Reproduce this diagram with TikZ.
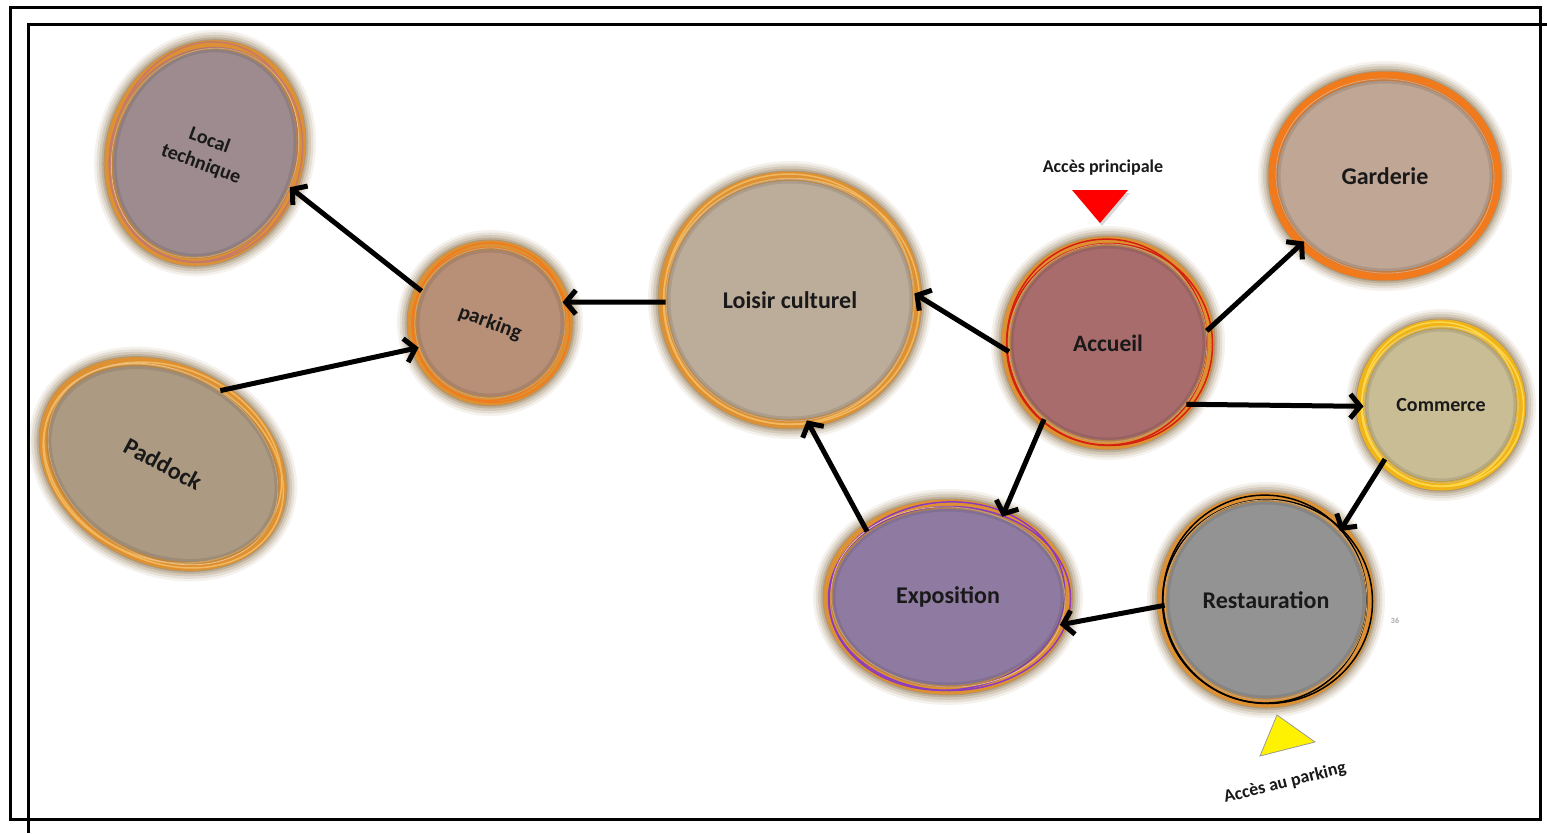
\documentclass[tikz,border=0pt]{standalone}
\usepackage{fontspec}
\setmainfont{Carlito}
\usetikzlibrary{shapes.geometric,arrows.meta}
\definecolor{halo}{HTML}{7A5A2A}
\definecolor{cLoc}{HTML}{9D8B8F}
\definecolor{cPark}{HTML}{B89078}
\definecolor{cPad}{HTML}{AD9A83}
\definecolor{cLois}{HTML}{BCAC9A}
\definecolor{cAcc}{HTML}{A86C6D}
\definecolor{cGar}{HTML}{C0A694}
\definecolor{cCom}{HTML}{C9BD95}
\definecolor{cRest}{HTML}{939393}
\definecolor{cExpo}{HTML}{8F7BA1}
\definecolor{rOr}{HTML}{DE9132}
\definecolor{rOr2}{HTML}{F07A1C}
\definecolor{rYel}{HTML}{F0B418}
\definecolor{aPink}{HTML}{C47A6A}
\definecolor{aRed}{HTML}{D42010}
\definecolor{aYel}{HTML}{FFD84A}
\definecolor{aPur}{HTML}{8A3CC0}
\definecolor{aLight}{HTML}{F2B860}
\tikzset{
  bubble/.style={shape=ellipse, inner sep=0pt, font=\bfseries, text=black!90},
  arr/.style={line width=5pt, black, -{Straight Barb[length=10pt,width=24pt]}},
  frame/.style={line width=3pt, black},
  lbl/.style={font=\bfseries, text=black!90, inner sep=0pt}
}
\newcommand\bubble[9]{%
  \begin{scope}[shift={(#2)},rotate=#5]
    \foreach \w/\o in {30/0.08,25/0.12,20/0.16,15/0.22,11/0.3}
      \draw[halo, line width=\w pt, opacity=\o] (0,0) ellipse [x radius=#3pt, y radius=#4pt];
    \draw[#7, line width=9pt] (0,0) ellipse [x radius=#3pt, y radius=#4pt];
    \draw[#8, line width=1.5pt] (1.5,-1.5) ellipse [x radius=#3pt+1pt, y radius=#4pt-1pt];
    \draw[#8, line width=1.5pt, rotate=5] (-1,1) ellipse [x radius=#3pt-2pt, y radius=#4pt+1pt];
    \draw[#7!55!white, line width=0.8pt, rotate=-3] (0,0) ellipse [x radius=#3pt-3pt, y radius=#4pt-3pt];
  \end{scope}
  \node[bubble, fill=#6, draw=#6!70!black, draw opacity=0.3, line width=5pt,
        minimum width={2*#3pt-10pt}, minimum height={2*#4pt-10pt}, rotate=#5] (#1) at (#2) {#9};
}
\begin{document}
\begin{tikzpicture}[x=1pt,y=1pt]
\useasboundingbox (0,0) rectangle (1547,-833);
% frames
\draw[frame] (10,-7) rectangle (1540,-819);
\draw[frame] (1547,-24) -- (28,-24) -- (28,-833);

% bubbles
\bubble{loc}{205,-153}{94}{110}{-20}{cLoc}{rOr}{aPink}{\fontsize{20}{25}\selectfont\begin{tabular}{@{}c@{}}Local\\technique\end{tabular}}
\bubble{park}{490,-323}{78}{78}{-20}{cPark}{rOr}{rOr2}{\fontsize{21}{24}\selectfont parking}
\bubble{pad}{163,-464}{125}{95}{-28}{cPad}{rOr}{aLight}{\fontsize{24}{28}\selectfont Paddock}
\bubble{lois}{790,-300}{127}{124}{0}{cLois}{rOr}{aLight}{\fontsize{24}{28}\selectfont Loisir culturel}
\bubble{acc}{1108,-343}{102}{102}{0}{cAcc}{rOr}{aRed}{\fontsize{23.5}{28}\selectfont Accueil}
\bubble{gar}{1385,-176}{112}{100}{0}{cGar}{rOr2}{rOr2}{\fontsize{24}{28}\selectfont Garderie}
\bubble{com}{1441,-405}{80}{81}{0}{cCom}{rYel}{aYel}{\fontsize{20}{24}\selectfont Commerce}
\bubble{rest}{1266,-600}{104}{103}{0}{cRest}{rOr}{black}{\fontsize{24}{28}\selectfont Restauration}
\bubble{expo}{948,-597}{120}{93}{0}{cExpo}{rOr}{aPur}{\fontsize{24}{28}\selectfont Exposition}

% connectors
\draw[arr] (park.175) -- (loc.-2);
\draw[arr] (pad.80) -- (park.-141);
\draw[arr] (lois.181) -- (park.36);
\draw[arr] (acc.185) -- (lois.3);
\draw[arr] (acc.7) -- (gar.219);
\draw[arr] (acc.-38) -- (com.181);
\draw[arr] (acc.230) -- (expo.56);
\draw[arr] (expo.141) -- (lois.-82);
\draw[arr] (com.224) -- (rest.43);
\draw[arr] (rest.183) -- (expo.-14);

% access markers
\fill[black, opacity=0.15] (1076,-193) -- (1130,-193) -- (1102,-226) -- cycle;
\fill[red] (1072,-190) -- (1128,-190) -- (1100,-223) -- cycle;
\node[lbl, font=\bfseries\fontsize{18}{21}\selectfont] (accp) at (1103,-168) {Accès principale};
\filldraw[fill=yellow, draw=black!40, line width=0.8pt] (1277,-715) -- (1315,-742) -- (1260,-756) -- cycle;
\node[lbl, font=\bfseries\fontsize{18}{21}\selectfont, rotate=14] (accpk) at (1285,-783) {Accès au parking};
\node[lbl, font=\bfseries\fontsize{8}{9}\selectfont, text=black!35] (pg) at (1395,-621) {36};
\end{tikzpicture}
\end{document}
